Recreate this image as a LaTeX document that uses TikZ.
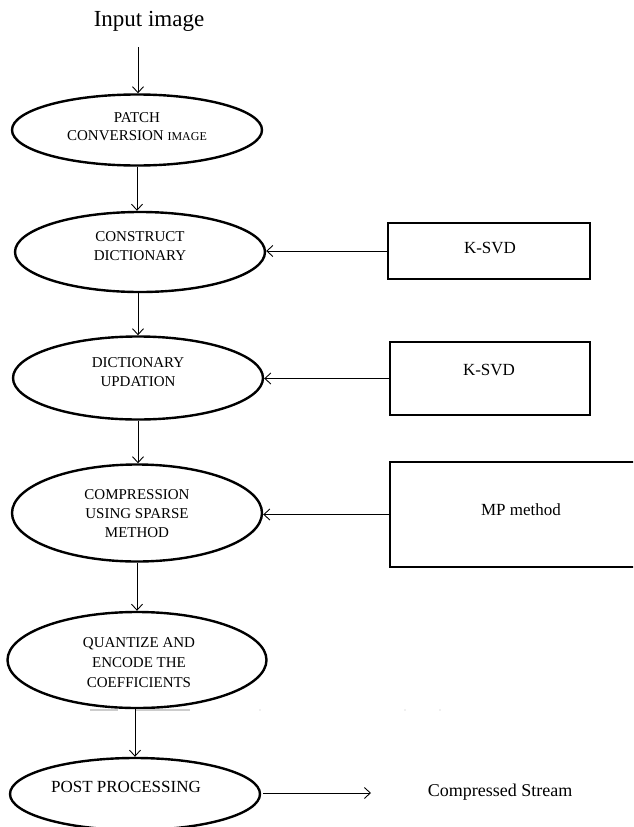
\documentclass[tikz,border=0pt]{standalone}
\usepackage{fontspec}
\setmainfont{Liberation Serif}
\usetikzlibrary{shapes.geometric,arrows.meta}
\begin{document}
\begin{tikzpicture}[x=1pt,y=-1pt,
  oval/.style={draw,ellipse,line width=2.4pt,inner sep=0pt},
  sidebox/.style={draw,line width=2.6pt,inner sep=0pt},
  lbl/.style={align=center,font=\fontsize{15}{19}\selectfont,inner sep=0pt},
  boxlbl/.style={inner sep=0pt,font=\fontsize{17}{20}\selectfont},
  arr/.style={line width=0.9pt,-{Straight Barb[length=6pt,width=11pt]}}]
\clip (0,0) rectangle (633,827);
\fill[white] (0,0) rectangle (633,827);
% title
\node[inner sep=1pt,font=\fontsize{23}{26}\selectfont] (in) at (149,21) {Input image};
\coordinate (inb) at (138,47);
% ellipses
\node[oval,minimum width=250pt,minimum height=71pt] (e1) at (137,130) {};
\node[oval,minimum width=250pt,minimum height=80pt] (e2) at (140,252) {};
\node[oval,minimum width=250pt,minimum height=83pt] (e3) at (138,378) {};
\node[oval,minimum width=250pt,minimum height=97pt] (e4) at (137,513) {};
\node[oval,minimum width=259pt,minimum height=96pt] (e5) at (137,660) {};
\node[oval,minimum width=250pt,minimum height=72pt] (e6) at (135,794) {};
% ellipse texts
\node[lbl,font=\fontsize{15}{18}\selectfont] (t1) at (137,127) {PATCH\\CONVERSION {\fontsize{12}{18}\selectfont IMAGE}};
\node[lbl] (t2) at (140,246) {CONSTRUCT\\DICTIONARY};
\node[lbl] (t3) at (138,372) {DICTIONARY\\UPDATION};
\node[lbl] (t4) at (137,514) {COMPRESSION\\USING SPARSE\\METHOD};
\node[lbl,font=\fontsize{15}{20}\selectfont] (t5) at (139,663) {QUANTIZE AND\\ENCODE THE\\COEFFICIENTS};
\node[inner sep=0pt,font=\fontsize{17}{20}\selectfont] (t6) at (126,787) {POST PROCESSING};
% side boxes
\node[sidebox,minimum width=202pt,minimum height=56pt] (b1) at (489,251) {};
\node[sidebox,minimum width=200pt,minimum height=73pt] (b2) at (490,378.5) {};
\node[sidebox,minimum width=260pt,minimum height=105pt] (b3) at (520,514.5) {};
\node[boxlbl] (k1) at (490,248) {K-SVD};
\node[boxlbl] (k2) at (489,370) {K-SVD};
\node[boxlbl] (k3) at (521,510) {MP method};
% output text
\node[inner sep=0pt,font=\fontsize{18}{20}\selectfont] (cs) at (500,792) {Compressed Stream};
\coordinate (o1) at (263,793);
\coordinate (o2) at (371,793);
% faint scan marks under the fifth ellipse
\draw[gray!40,line width=1.2pt] (90,710) -- (118,710) (135,710) -- (190,710);
\fill[gray!50] (260,710) circle (0.6pt) (405,710) circle (0.6pt) (440,710) circle (0.6pt);
% vertical arrows
\draw[arr] (inb) -- (inb |- e1.north);
\draw[arr] (e1.south) -- (e1.south |- e2.north);
\draw[arr] (e3.north |- e2.south) -- (e3.north);
\draw[arr] (e3.south) -- (e3.south |- e4.north);
\draw[arr] (e4.south) -- (e4.south |- e5.north);
\draw[arr] (e6.north |- e5.south) -- (e6.north);
% horizontal arrows
\draw[arr] (b1.west) -- (b1.west -| e2.east);
\draw[arr] (b2.west) -- (b2.west -| e3.east);
\draw[arr] (b3.west) -- (b3.west -| e4.east);
\draw[arr] (o1) -- (o2);
\end{tikzpicture}
\end{document}
